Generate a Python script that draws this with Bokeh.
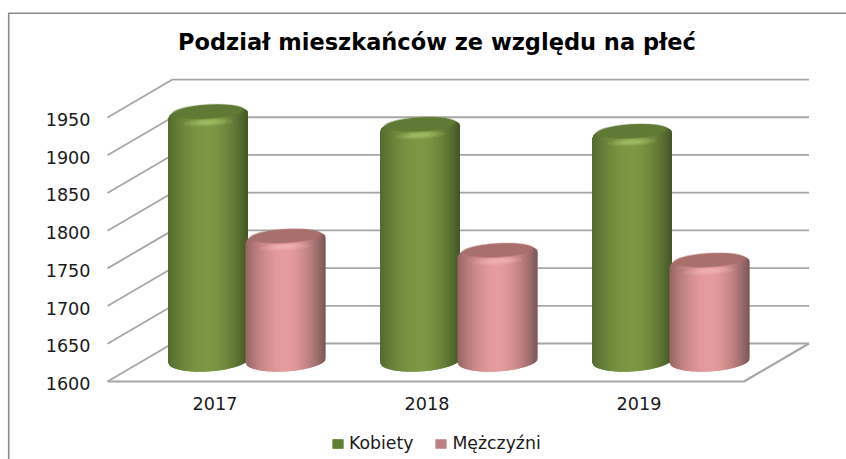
from bokeh.plotting import figure
from bokeh.models import FixedTicker, Legend, LegendItem, ColumnDataSource, Range1d
from bokeh.core.properties import value as bk_value
from bokeh.embed import file_html
from bokeh.resources import INLINE
import numpy as np

title = "Podział mieszkańców ze względu na płeć"
years = ["2017", "2018", "2019"]
series_names = ["Kobiety", "Mężczyźni"]
kobiety = [1927, 1910, 1901]
mezczyzni = [1762, 1743, 1730]
y_ticks = [1600, 1650, 1700, 1750, 1800, 1850, 1900, 1950]

W, H = 846, 459
PX_PER_UNIT = 37.71 / 50            # vertical scale
PX_PER_CAT = 212.0                  # horizontal scale
X0_PAGE = 214.5                     # x of the first category
Y0_PAGE = 381.0                     # y of value 1600

def xp(px):   # pixels -> category units
    return (px - X0_PAGE) / PX_PER_CAT
def yp(px):   # pixels -> value units
    return 1600 + (Y0_PAGE - px) / PX_PER_UNIT

PXU = 1 / PX_PER_UNIT
p = figure(width=W, height=H, output_backend="svg", toolbar_location=None,
           x_range=(xp(0), xp(W)), y_range=(yp(H), yp(0)),
           min_border=0, min_border_left=0, min_border_right=0,
           min_border_top=0, min_border_bottom=0)
p.outline_line_color = None
p.grid.visible = False
p.background_fill_color = "white"
p.border_fill_color = "white"
# tick labels sit 2px below their gridline level in the source
p.extra_y_ranges["labels"] = Range1d(yp(H) + 2 * PXU, yp(0) + 2 * PXU)

# 3D box: depth expressed in axis units
DX = 65 / PX_PER_CAT
DY = 38 / PX_PER_UNIT
LEFT = xp(107)
RIGHT = xp(743.5)
GRID = "#a6a6a6"

back_x, back_y = [], []
for v in y_ticks:
    back_x.append([LEFT, LEFT + DX, RIGHT + DX])
    back_y.append([v, v + DY, v + DY])
p.multi_line(back_x, back_y, line_color=GRID, line_width=1.8)
p.line([LEFT, RIGHT, RIGHT + DX], [1600, 1600, 1600 + DY], line_color=GRID, line_width=2.2)

# picture frame, open at right and bottom
p.line([xp(8.2), xp(8.2), xp(W)], [yp(H), yp(12.8), yp(12.8)], line_color="#8a8a8a", line_width=1.6)


def shade(c_edge_l, c_mid, c_edge_r, t):
    """t in -1..1 -> colour along the cylinder"""
    a = np.array(c_edge_l, float); m = np.array(c_mid, float); b = np.array(c_edge_r, float)
    k = abs(t) ** 1.8
    c = m + (a - m) * k if t < 0 else m + (b - m) * k
    return "#%02x%02x%02x" % tuple(int(round(x)) for x in c)


GREEN = dict(l=(84, 106, 46), m=(124, 152, 68), r=(66, 84, 36), top="#5f7a34", hi="#b0cf72")
PINK = dict(l=(150, 100, 100), m=(230, 156, 156), r=(122, 84, 84), top="#a96f6c", hi="#f3bcb9")

HALF_W = 40 / PX_PER_CAT
RY = 11.0 / PX_PER_UNIT
TILT = 2.4 / PX_PER_UNIT
N = 80
OFFSETS = (-7 / PX_PER_CAT, 70.5 / PX_PER_CAT)


def cylinder(cx, val, pal):
    base = 1600 + 21 * PXU
    top = val + DY / 2
    ts = np.linspace(-1, 1, N + 1)
    xs, ys, cols = [], [], []
    for a, b in zip(ts[:-1], ts[1:]):
        m = (a + b) / 2
        low_a = -RY * np.sqrt(1 - a * a) + TILT * a
        low_b = -RY * np.sqrt(1 - b * b) + TILT * b
        up_a = RY * np.sqrt(1 - a * a) + TILT * a
        up_b = RY * np.sqrt(1 - b * b) + TILT * b
        xa = cx + a * HALF_W
        xb = cx + min(b + 0.02, 1) * HALF_W   # slight overlap hides seams
        xs.append([xa, xb, xb, xa])
        ys.append([base + low_a, base + low_b, top + up_b, top + up_a])
        cols.append(shade(pal["l"], pal["m"], pal["r"], m))
    p.patches(xs, ys, fill_color=cols, line_color=None)
    th = np.linspace(0, 2 * np.pi, 80)
    ex, ey = np.cos(th), np.sin(th)
    # highlight on the lip under the lid
    for w, h, alpha in ((0.62, 4.0, 0.18), (0.45, 3.0, 0.25), (0.28, 1.8, 0.35)):
        p.patch(cx + ex * HALF_W * w, top + (ey * h - 6.5) * PXU + TILT * ex * w,
                fill_color=pal["hi"], fill_alpha=alpha, line_color=None)
    # soft-edged lid
    for w, h, alpha in ((0.92, 7.6, 0.35), (0.88, 7.0, 0.5), (0.84, 6.4, 1.0)):
        p.patch(cx + ex * HALF_W * w, top + (ey * h + 4.3) * PXU + TILT * ex * w * 0.9,
                fill_color=pal["top"], fill_alpha=alpha, line_color=None)


for i in range(len(years)):
    cylinder(i + OFFSETS[0], kobiety[i], GREEN)
    cylinder(i + OFFSETS[1], mezczyzni[i], PINK)

# title as a real text glyph
p.text([xp(436.5)], [yp(41)], text=[title], text_align="center", text_baseline="middle",
       text_font_size="22.5px", text_font_style="bold", text_color="#000000",
       text_font=bk_value("DejaVu Sans"))

# axes drawn inside the frame
p.yaxis.fixed_location = LEFT
p.yaxis.y_range_name = "labels"
p.yaxis.ticker = FixedTicker(ticks=y_ticks)
p.yaxis.axis_line_color = None
p.yaxis.major_tick_line_color = None
p.yaxis.minor_tick_line_color = None
p.yaxis.major_tick_in = 0
p.yaxis.major_tick_out = 0
p.yaxis.major_label_standoff = 17
p.yaxis.major_label_text_font = "DejaVu Sans"
p.yaxis.major_label_text_font_size = "17.6px"
p.yaxis.major_label_text_color = "#1a1a1a"

p.xaxis.fixed_location = 1600
p.xaxis.ticker = FixedTicker(ticks=[0, 1, 2])
p.xaxis.major_label_overrides = {i: y for i, y in enumerate(years)}
p.xaxis.axis_line_color = None
p.xaxis.major_tick_line_color = None
p.xaxis.minor_tick_line_color = None
p.xaxis.major_tick_in = 0
p.xaxis.major_tick_out = 0
p.xaxis.major_label_standoff = 15
p.xaxis.major_label_text_font = "DejaVu Sans"
p.xaxis.major_label_text_font_size = "17.6px"
p.xaxis.major_label_text_color = "#1a1a1a"

# legend keys: placeholder quads with no visible extent supply the key colours
nan = float("nan")
off = dict(left=[nan], right=[nan], top=[nan], bottom=[nan])
r1 = p.quad(left="left", right="right", top="top", bottom="bottom", source=ColumnDataSource(off),
            fill_color="#5f7d33", line_color="#6c8c3c")
r2 = p.quad(left="left", right="right", top="top", bottom="bottom", source=ColumnDataSource(off),
            fill_color="#bd8080", line_color="#c99494")
leg = Legend(items=[LegendItem(label=series_names[0], renderers=[r1], index=0),
                    LegendItem(label=series_names[1], renderers=[r2], index=0)],
             orientation="horizontal", location=(331, 6),
             border_line_color=None, background_fill_alpha=0,
             label_text_font="DejaVu Sans", label_text_font_size="17.3px", label_text_color="#1a1a1a",
             glyph_width=13, glyph_height=11, spacing=21, padding=0, margin=0, label_standoff=5)
p.add_layout(leg, "center")

open("out.html", "w").write(file_html(p, INLINE))
